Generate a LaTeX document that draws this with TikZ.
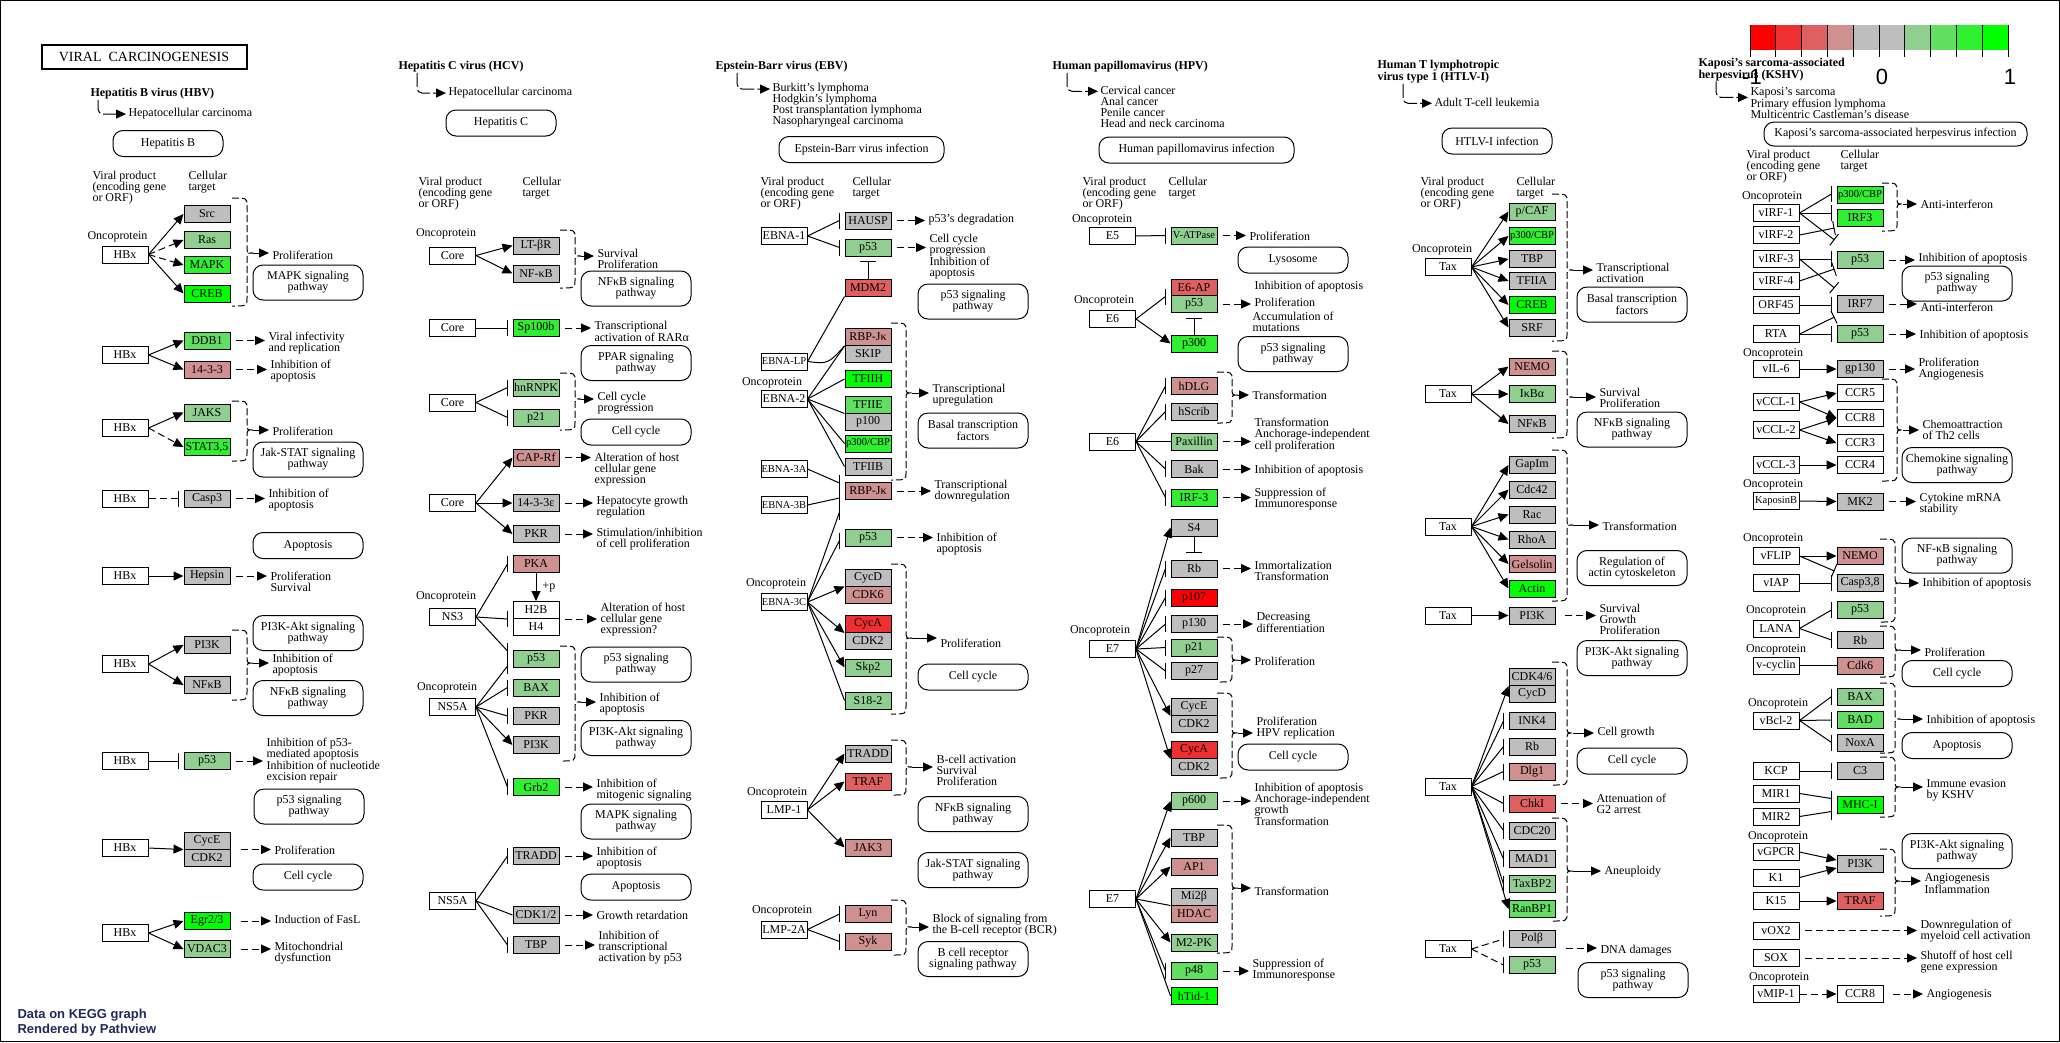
\documentclass[tikz,border=0pt]{standalone}
\usepackage{fontspec}
\setmainfont{Liberation Serif}
\setsansfont{Liberation Sans}
\usetikzlibrary{arrows.meta}

\definecolor{nodat}{HTML}{BEBEBE}
\definecolor{dn1}{HTML}{FF0000}
\definecolor{dn2}{HTML}{EF3030}
\definecolor{dn3}{HTML}{DF6060}
\definecolor{dn4}{HTML}{CF9090}
\definecolor{up4}{HTML}{90CF90}
\definecolor{up3}{HTML}{60DF60}
\definecolor{up2}{HTML}{30EF30}
\definecolor{up1}{HTML}{00FF00}
\definecolor{navy}{HTML}{1F2A5C}

\newcommand{\kegtxt}{\fontsize{12}{11}\selectfont}
% dashed bracket: name, x, top, bottom, tip
\newcommand{\kbrace}[5]{%
  \draw[brc] (#2,#3) .. controls (#2+15,#3) .. (#2+15,#3+8) -- (#2+15,#5-7)
    .. controls (#2+15,#5) .. (#2+21,#5) .. controls (#2+15,#5) .. (#2+15,#5+7)
    -- (#2+15,#4-8) .. controls (#2+15,#4) .. (#2,#4);
  \coordinate (#1) at (#2+21,#5);}
% inhibition: style, source, target anchor, bar offset
\newcommand{\inh}[4][]{%
  \draw[#1] (#2) -- ([shift={(-5,#4)}]#3);
  \draw ([shift={(-5,#4-8)}]#3) -- ++(0,16);}

\begin{document}
\begin{tikzpicture}[x=1pt, y=-1pt, line width=1pt, font=\kegtxt,
  gene/.style={draw, fill=nodat, minimum width=46pt, minimum height=17pt, inner sep=0pt},
  vp/.style={gene, fill=white},
  nar/.style={font=\fontsize{10.5}{11}\selectfont},
  pw/.style={draw, rounded corners=10pt, minimum width=110pt, minimum height=26pt, align=center, inner sep=1pt},
  pw2/.style={pw, minimum height=35pt},
  lbl/.style={anchor=west, align=left, inner sep=0pt},
  onc/.style={inner sep=0pt},
  ttl/.style={anchor=west, align=left, inner sep=0pt, font=\bfseries\fontsize{12}{10.5}\selectfont},
  act/.style={-{Triangle[length=10pt,width=9pt]}},
  blk/.style={-{Bar[width=14pt]}},
  ind/.style={act, dash pattern=on 7pt off 4pt},
  nd/.style={dash pattern=on 7pt off 4pt},
  go/.style={ind, shorten <=5pt, shorten >=3pt},
  bto/.style={act, shorten >=3pt},
  brc/.style={dash pattern=on 7pt off 3pt},
  dis/.style={act, rounded corners=5pt, shorten >=2pt, dash pattern=on 14pt off 3pt}]

\useasboundingbox (0,0) rectangle (2060,1042);
\draw (0.5,0.5) rectangle (2059.5,1041.5);

% Title and legend
\node[draw, line width=2pt, minimum width=205pt, minimum height=24pt, inner sep=0pt,
  font=\fontsize{14}{14}\selectfont] (title) at (144,56.5) {VIRAL\ \ CARCINOGENESIS};
\foreach \cl [count=\i from 0] in {dn1,dn2,dn3,dn4,nodat,nodat,up4,up3,up2,up1}
  \fill[\cl] (1750+25.8*\i,25) rectangle ++(25.8,25);
\foreach \i in {0,...,10}
  \draw (1750+25.8*\i,25) -- ++(0,32);
\node[font=\sffamily\fontsize{22}{22}\selectfont] (lgLo) at (1752,77) {-1};
\node[font=\sffamily\fontsize{22}{22}\selectfont] (lgMid) at (1882,77) {0};
\node[font=\sffamily\fontsize{22}{22}\selectfont] (lgHi) at (2010,77) {1};
\node[anchor=west, align=left, inner sep=0pt, text=navy,
  font=\sffamily\bfseries\fontsize{13}{15}\selectfont] (pvData) at (17,1022.5) {Data on KEGG graph\\Rendered by Pathview};

% ---------------- HBV ----------------
\node[ttl] (hbvT) at (90,94) {Hepatitis B virus (HBV)};
\node[lbl] (hbvD) at (128,114) {Hepatocellular carcinoma};
\draw[dis] ([xshift=8pt]hbvT.south west) |- ([yshift=-6pt]hbvD.north west);
\node[pw] (hbvP) at (168,143.5) {Hepatitis B};
\node[lbl] (hbvV) at (92,188) {Viral product\\(encoding gene\\or ORF)};
\node[lbl] (hbvC) at (188,182.5) {Cellular\\target};

\node[onc] (bOnc) at (117.5,237) {Oncoprotein};
\node[vp] (bHBx1) at (125,254.5) {HBx};
\node[gene] (bSrc) at (207,214) {Src};
\node[gene, fill=up4] (bRas) at (207,240) {Ras};
\node[gene, fill=up2] (bMAPK) at (207,265) {MAPK};
\node[gene, fill=up1] (bCREB) at (207,293.5) {CREB};
\draw[act] (bHBx1.east) -- (bSrc.west);
\draw[ind] (bHBx1.east) -- (bRas.west);
\draw[ind] (bHBx1.east) -- (bMAPK.west);
\draw[act] (bHBx1.east) -- (bCREB.west);
\kbrace{bB1}{232}{198}{306}{253}
\node[lbl] (bL1) at (272,255) {Proliferation};
\draw[bto] (bB1) -- (bB1 -| bL1.west);
\node[pw2] (bP1) at (308,282.5) {MAPK signaling\\pathway};

\node[vp] (bHBx2) at (125,355) {HBx};
\node[gene, fill=up3] (bDDB1) at (207,340.5) {DDB1};
\node[gene, fill=dn4] (b1433) at (207,369.5) {14-3-3};
\draw[act] (bHBx2.east) -- (bDDB1.west);
\draw[act] (bHBx2.east) -- (b1433.west);
\node[lbl] (bL2) at (268,343) {Viral infectivity\\and replication};
\node[lbl] (bL3) at (270,371) {Inhibition of\\apoptosis};
\draw[go] (bDDB1.east) -- (bDDB1.east -| bL2.west);
\draw[go] (b1433.east) -- (b1433.east -| bL3.west);

\node[vp] (bHBx3) at (125,428) {HBx};
\node[gene, fill=up4] (bJAKS) at (207,412.5) {JAKS};
\node[gene, fill=up2] (bSTAT) at (207,447) {STAT3,5};
\draw[act] (bHBx3.east) -- (bJAKS.west);
\draw[ind] (bHBx3.east) -- (bSTAT.west);
\kbrace{bB3}{232}{401}{461}{430}
\node[lbl] (bL4) at (272,431) {Proliferation};
\draw[bto] (bB3) -- (bB3 -| bL4.west);
\node[pw2] (bP3) at (308,459.5) {Jak-STAT signaling\\pathway};

\node[vp] (bHBx4) at (125,498.5) {HBx};
\node[gene] (bCasp3) at (207,498.5) {Casp3};
\inh[nd]{bHBx4.east}{bCasp3.west}{0}
\node[lbl] (bL5) at (268,500.5) {Inhibition of\\apoptosis};
\draw[go] (bCasp3.east) -- (bCasp3.east -| bL5.west);
\node[pw] (bP4) at (308,545.5) {Apoptosis};

\node[vp] (bHBx5) at (125,576) {HBx};
\node[gene] (bHepsin) at (207,576) {Hepsin};
\draw[act] (bHBx5.east) -- (bHepsin.west);
\node[lbl] (bL6) at (270,581.5) {Proliferation\\Survival};
\draw[go] (bHepsin.east) -- (bHepsin.east -| bL6.west);

\node[vp] (bHBx6) at (125,664) {HBx};
\node[gene] (bPI3K) at (207,645) {PI3K};
\node[gene] (bNFkB) at (207,685) {NFκB};
\draw[act] (bHBx6.east) -- (bPI3K.west);
\draw[act] (bHBx6.east) -- (bNFkB.west);
\kbrace{bB6}{232}{630}{700}{663}
\node[lbl] (bL7) at (272,665.5) {Inhibition of\\apoptosis};
\draw[bto] (bB6) -- (bB6 -| bL7.west);
\node[pw2] (bP6a) at (308,633) {PI3K-Akt signaling\\pathway};
\node[pw2] (bP6b) at (308,698) {NFκB signaling\\pathway};

\node[vp] (bHBx7) at (125,761) {HBx};
\node[gene, fill=up4] (bp53) at (207,761) {p53};
\inh{bHBx7.east}{bp53.west}{0}
\node[lbl] (bL8) at (266,760.5) {Inhibition of p53-\\mediated apoptosis\\Inhibition of nucleotide\\excision repair};
\draw[go] (bp53.east) -- (bp53.east -| bL8.west);
\node[pw2] (bP7) at (309,806.5) {p53 signaling\\pathway};

\node[vp] (bHBx8) at (125,848) {HBx};
\node[gene] (bCycE) at (207,840.5) {CycE};
\node[gene] (bCDK2) at (207,857.5) {CDK2};
\draw[act] (bHBx8.east) -- (bCycE.south west);
\node[lbl] (bL9) at (274,850) {Proliferation};
\draw[go, shorten <=10pt] (bCycE.south east) -- (bCycE.south east -| bL9.west);
\node[pw] (bP8) at (308,877) {Cell cycle};

\node[vp] (bHBx9) at (125,933) {HBx};
\node[gene, fill=up1] (bEgr) at (207,921) {Egr2/3};
\node[gene, fill=up4] (bVDAC) at (207,949) {VDAC3};
\draw[act] (bHBx9.east) -- (bEgr.west);
\draw[act] (bHBx9.east) -- (bVDAC.west);
\node[lbl] (bL10) at (274,919) {Induction of FasL};
\node[lbl] (bL11) at (274,953.5) {Mitochondrial\\dysfunction};
\draw[go, shorten <=10pt] (bEgr.east) -- (bEgr.east -| bL10.west);
\draw[go, shorten <=10pt] (bVDAC.east) -- (bVDAC.east -| bL11.west);

% ---------------- HCV ----------------
\node[ttl] (hcvT) at (398,67) {Hepatitis C virus (HCV)};
\node[lbl] (hcvD) at (448,93) {Hepatocellular carcinoma};
\draw[dis] ([xshift=19pt]hcvT.south west) |- ([yshift=-6pt]hcvD.north west);
\node[pw] (hcvP) at (501,123) {Hepatitis C};
\node[lbl] (hcvV) at (418,194) {Viral product\\(encoding gene\\or ORF)};
\node[lbl] (hcvC) at (522,188.5) {Cellular\\target};

\node[onc] (cOnc1) at (446,234) {Oncoprotein};
\node[vp] (cCore1) at (452.5,255.5) {Core};
\node[gene] (cLTbR) at (536,245.5) {LT-βR};
\node[gene] (cNFkB) at (536,273.5) {NF-κB};
\draw[act] (cCore1.east) -- (cLTbR.west);
\draw[act] (cCore1.east) -- (cNFkB.west);
\kbrace{cB1}{560}{230}{288}{256}
\node[lbl] (cL1) at (597,258.5) {Survival\\Proliferation};
\draw[bto] (cB1) -- (cB1 -| cL1.west);
\node[pw2] (cP1) at (636,288.5) {NFκB signaling\\pathway};

\node[vp] (cCore2) at (452.5,328) {Core};
\node[gene, fill=up2] (cSp100) at (536,328) {Sp100b};
\inh{cCore2.east}{cSp100.west}{0}
\node[lbl] (cL2) at (594,331.5) {Transcriptional\\activation of RARα};
\draw[go] (cSp100.east) -- (cSp100.east -| cL2.west);
\node[pw2] (cP2) at (636,363) {PPAR signaling\\pathway};

\node[vp] (cCore3) at (452.5,402.5) {Core};
\node[gene, fill=up4] (chnRNPK) at (536,387.5) {hnRNPK};
\node[gene, fill=up4] (cp21) at (536,417.5) {p21};
\inh{cCore3.east}{chnRNPK.west}{0}
\inh{cCore3.east}{cp21.west}{0}
\kbrace{cB3}{560}{373}{430}{399}
\node[lbl] (cL3) at (597,403.5) {Cell cycle\\progression};
\draw[bto] (cB3) -- (cB3 -| cL3.west);
\node[pw] (cP3) at (636,432) {Cell cycle};

\node[vp] (cCore4) at (452.5,503) {Core};
\node[gene, fill=dn4] (cCAP) at (536,457.5) {CAP-Rf};
\node[gene] (c1433) at (536,503) {14-3-3ε};
\node[gene] (cPKR1) at (536,534) {PKR};
\draw[act] (cCore4.east) -- (cCAP.west);
\draw[act] (cCore4.east) -- (c1433.west);
\draw[act] (cCore4.east) -- (cPKR1.west);
\node[lbl] (cL4) at (594,470) {Alteration of host\\cellular gene\\expression};
\node[lbl] (cL5) at (596,507.5) {Hepatocyte growth\\regulation};
\node[lbl] (cL6) at (596,539.5) {Stimulation/inhibition\\of cell proliferation};
\draw[go] (cCAP.east) -- (cCAP.east -| cL4.west);
\draw[go] (c1433.east) -- (c1433.east -| cL5.west);
\draw[go] (cPKR1.east) -- (cPKR1.east -| cL6.west);

\node[gene, fill=dn4] (cPKA) at (536,564) {PKA};
\node[gene, fill=white] (cH2B) at (536,610) {H2B};
\node[gene, fill=white] (cH4) at (536,626.5) {H4};
\draw[act] (cPKA.south) -- (cH2B.north) node[midway, anchor=west, inner sep=0pt, xshift=6pt] (cPlusP) {+p};
\node[onc] (cOnc2) at (446,597) {Oncoprotein};
\node[vp] (cNS3) at (452.5,617) {NS3};
\inh{cNS3.east}{cPKA.west}{0}
\inh{cNS3.east}{cH2B.south west}{0}
\node[lbl] (cL7) at (600,620) {Alteration of host\\cellular gene\\expression?};
\draw[go] (cH2B.south east) -- (cH2B.south east -| cL7.west);

\node[onc] (cOnc3) at (447,688) {Oncoprotein};
\node[vp] (cNS5A1) at (452.5,707) {NS5A};
\node[gene, fill=up4] (cp53) at (536,659) {p53};
\node[gene, fill=up4] (cBAX) at (536,687.5) {BAX};
\node[gene] (cPKR2) at (536,716) {PKR};
\node[gene] (cPI3K) at (536,745) {PI3K};
\node[gene, fill=up2] (cGrb2) at (536,787) {Grb2};
\inh{cNS3.east}{cp53.west}{-8}
\inh{cNS5A1.east}{cp53.west}{7}
\inh{cNS5A1.east}{cBAX.west}{0}
\inh{cNS5A1.east}{cPKR2.west}{0}
\draw[act] (cNS5A1.east) -- (cPI3K.west);
\inh{cNS5A1.east}{cGrb2.west}{0}
\kbrace{cB5}{560}{646}{761}{702}
\node[lbl] (cL8) at (599,704.5) {Inhibition of\\apoptosis};
\draw[bto] (cB5) -- (cB5 -| cL8.west);
\node[pw2] (cP5a) at (636,664.5) {p53 signaling\\pathway};
\node[pw2] (cP5b) at (636,738) {PI3K-Akt signaling\\pathway};
\node[lbl] (cL9) at (596,790.5) {Inhibition of\\mitogenic signaling};
\draw[go] (cGrb2.east) -- (cGrb2.east -| cL9.west);
\node[pw2] (cP6) at (636,821.5) {MAPK signaling\\pathway};

\node[vp] (cNS5A2) at (452.5,901) {NS5A};
\node[gene] (cTRADD) at (536,856) {TRADD};
\node[gene] (cCDK) at (536,915) {CDK1/2};
\node[gene] (cTBP) at (536,945) {TBP};
\inh{cNS5A2.east}{cTRADD.west}{0}
\draw (cNS5A2.east) -- (cCDK.west);
\inh{cNS5A2.east}{cTBP.west}{0}
\node[lbl] (cL10) at (596,858.5) {Inhibition of\\apoptosis};
\node[pw] (cP7) at (636,887) {Apoptosis};
\node[lbl] (cL11) at (596,915) {Growth retardation};
\node[lbl] (cL12) at (598,948) {Inhibition of\\transcriptional\\activation by p53};
\draw[go] (cTRADD.east) -- (cTRADD.east -| cL10.west);
\draw[go] (cCDK.east) -- (cCDK.east -| cL11.west);
\draw[go] (cTBP.east) -- (cTBP.east -| cL12.west);

% ---------------- EBV ----------------
\node[ttl] (ebvT) at (715,67) {Epstein-Barr virus (EBV)};
\node[lbl] (ebvD) at (772,105.5) {Burkitt's lymphoma\\Hodgkin's lymphoma\\Post transplantation lymphoma\\Nasopharyngeal carcinoma};
\draw[dis] ([xshift=22pt]ebvT.south west) |- ([yshift=-6pt]ebvD.north west);
\node[pw, minimum width=165pt] (ebvP) at (861.5,149.5) {Epstein-Barr virus infection};
\node[lbl] (ebvV) at (760,194) {Viral product\\(encoding gene\\or ORF)};
\node[lbl] (ebvC) at (852,188.5) {Cellular\\target};

\node[vp] (eEBNA1) at (784,236) {EBNA-1};
\node[gene] (eHAUSP) at (868,220.5) {HAUSP};
\node[gene, fill=up4] (ep53a) at (868,247.5) {p53};
\node[gene, fill=dn3] (eMDM2) at (868,287.5) {MDM2};
\inh{eEBNA1.east}{eHAUSP.west}{0}
\inh{eEBNA1.east}{ep53a.west}{0}
\draw (eMDM2.north) -- ([yshift=-5pt]ep53a.south) ++(-8,0) -- ++(16,0);
\node[lbl] (eL1) at (928,220) {p53's degradation};
\node[lbl] (eL2) at (929,256.5) {Cell cycle\\progression\\Inhibition of\\apoptosis};
\draw[go] (eHAUSP.east) -- (eHAUSP.east -| eL1.west);
\draw[go] (ep53a.east) -- (ep53a.east -| eL2.west);
\node[pw2] (eP1) at (973,301.5) {p53 signaling\\pathway};

\node[vp, nar] (eEBNALP) at (784,361.5) {EBNA-LP};
\node[onc] (eOnc1) at (772,383) {Oncoprotein};
\node[vp] (eEBNA2) at (784,399) {EBNA-2};
\node[gene, fill=dn4] (eRBP1) at (868,337) {RBP-Jκ};
\node[gene] (eSKIP) at (868,353.5) {SKIP};
\node[gene, fill=up1] (eTFIIH) at (868,379) {TFIIH};
\node[gene, fill=up3] (eTFIIE) at (868,404.5) {TFIIE};
\node[gene] (ep100) at (868,421.5) {p100};
\node[gene, fill=up2, nar] (ep300) at (868,443.5) {p300/CBP};
\node[gene] (eTFIIB) at (868,466.5) {TFIIB};
\draw (eEBNALP.east) -- (eMDM2.south west);
\draw (eEBNALP.east) .. controls (828,364) .. (eRBP1.south west);
\draw (eEBNA2.east) -- (eRBP1.south west);
\draw (eEBNA2.east) -- (eTFIIH.west);
\draw (eEBNA2.east) -- (eTFIIE.south west);
\draw (eEBNA2.east) -- (ep300.west);
\draw (eEBNA2.east) -- (eTFIIB.west);
\kbrace{eB2}{891}{323}{480}{393}
\node[lbl] (eL3) at (932,395.5) {Transcriptional\\upregulation};
\draw[bto] (eB2) -- (eB2 -| eL3.west);
\node[pw2] (eP2) at (973,430.5) {Basal transcription\\factors};

\node[vp, nar] (eEBNA3A) at (784,469) {EBNA-3A};
\node[vp, nar] (eEBNA3B) at (784,505) {EBNA-3B};
\node[gene, fill=dn4] (eRBP2) at (868,491) {RBP-Jκ};
\inh{eEBNA3A.east}{eRBP2.west}{-8}
\inh{eEBNA3B.east}{eRBP2.west}{7}
\node[lbl] (eL4) at (934,491.5) {Transcriptional\\downregulation};
\draw[go] (eRBP2.east) -- (eRBP2.east -| eL4.west);
\node[gene, fill=up4] (ep53b) at (868,537.5) {p53};
\node[lbl] (eL5) at (936,544.5) {Inhibition of\\apoptosis};
\draw[go] (ep53b.east) -- (ep53b.east -| eL5.west);

\node[onc] (eOnc3) at (776,584) {Oncoprotein};
\node[vp, nar] (eEBNA3C) at (784,602) {EBNA-3C};
\inh{eEBNA3C.east}{eRBP2.south west}{12}
\inh{eEBNA3C.east}{ep53b.west}{3}
\node[gene] (eCycD) at (868,577.5) {CycD};
\node[gene, fill=dn4] (eCDK6) at (868,594.5) {CDK6};
\node[gene, fill=dn2] (eCycA) at (868,624) {CycA};
\node[gene] (eCDK2) at (868,640.5) {CDK2};
\node[gene, fill=up4] (eSkp2) at (868,667.5) {Skp2};
\node[gene, fill=up4] (eS182) at (868,700.5) {S18-2};
\draw[act] (eEBNA3C.east) -- (eCycD.south west);
\draw[act] (eEBNA3C.east) -- (eCycA.south west);
\draw[act] (eEBNA3C.east) -- (eSkp2.west);
\draw (eEBNA3C.east) -- (eS182.west);
\kbrace{eB3}{891}{564}{714}{638}
\node[lbl] (eL6) at (940,643) {Proliferation};
\draw[bto] (eB3) -- (eB3 -| eL6.west);
\node[pw] (eP3) at (973,677) {Cell cycle};

\node[onc] (eOnc4) at (777,793) {Oncoprotein};
\node[vp] (eLMP1) at (784,810) {LMP-1};
\node[gene] (eTRADD) at (868,753.5) {TRADD};
\node[gene, fill=dn3] (eTRAF) at (868,781.5) {TRAF};
\node[gene, fill=dn4] (eJAK3) at (868,847.5) {JAK3};
\draw[act] (eLMP1.east) -- (eTRADD.west);
\draw[act] (eLMP1.east) -- (eTRAF.west);
\draw[act] (eLMP1.east) -- (eJAK3.west);
\kbrace{eB4}{891}{740}{795}{767}
\node[lbl] (eL7) at (936,770.5) {B-cell activation\\Survival\\Proliferation};
\draw[bto] (eB4) -- (eB4 -| eL7.west);
\node[pw2] (eP4) at (973,814) {NFκB signaling\\pathway};
\node[pw2] (eP5) at (973,870) {Jak-STAT signaling\\pathway};

\node[onc] (eOnc5) at (782,911) {Oncoprotein};
\node[vp] (eLMP2A) at (784,929.5) {LMP-2A};
\node[gene, fill=dn4] (eLyn) at (868,914) {Lyn};
\node[gene, fill=dn4] (eSyk) at (868,941.5) {Syk};
\inh{eLMP2A.east}{eLyn.west}{0}
\inh{eLMP2A.east}{eSyk.west}{0}
\kbrace{eB5}{891}{900}{955}{927}
\node[lbl] (eL8) at (932,925.5) {Block of signaling from\\the B-cell receptor (BCR)};
\draw[bto] (eB5) -- (eB5 -| eL8.west);
\node[pw2] (eP6) at (973,959) {B cell receptor\\signaling pathway};

% ---------------- HPV ----------------
\node[ttl] (hpvT) at (1052,67) {Human papillomavirus (HPV)};
\node[lbl] (hpvD) at (1100,106.5) {Cervical cancer\\Anal cancer\\Penile cancer\\Head and neck carcinoma};
\draw[dis] ([xshift=15pt]hpvT.south west) |- ([yshift=-6pt]hpvD.north west);
\node[pw, minimum width=195pt] (hpvP) at (1196.5,150) {Human papillomavirus infection};
\node[lbl] (hpvV) at (1082,194) {Viral product\\(encoding gene\\or ORF)};
\node[lbl] (hpvC) at (1168,188.5) {Cellular\\target};

\node[onc] (pOnc1) at (1102,220) {Oncoprotein};
\node[vp] (pE5) at (1112.5,236) {E5};
\node[gene, fill=up4, nar] (pVATP) at (1194,235.5) {V-ATPase};
\inh{pE5.east}{pVATP.west}{0}
\node[lbl] (pL1) at (1249,236) {Proliferation};
\draw[go] (pVATP.east) -- (pVATP.east -| pL1.west);
\node[pw] (pP1) at (1293,260) {Lysosome};

\node[onc] (pOnc2) at (1104,301) {Oncoprotein};
\node[vp] (pE6a) at (1112.5,319) {E6};
\node[gene, fill=dn3] (pE6AP) at (1194,287.5) {E6-AP};
\node[gene, fill=up4] (pp53) at (1194,304) {p53};
\node[gene, fill=up2] (pp300) at (1194,343.5) {p300};
\inh{pE6a.east}{pE6AP.south west}{0}
\draw[act] (pE6a.east) -- (pp300.west);
\draw (pp300.north) -- ([yshift=-5pt]pp53.south) ++(-8,0) -- ++(16,0);
\node[lbl] (pL2a) at (1254,287) {Inhibition of apoptosis};
\node[lbl] (pL2b) at (1254,302) {Proliferation};
\node[lbl] (pL2c) at (1252,321.5) {Accumulation of\\mutations};
\draw[go] (pp53.east) -- (pp53.east -| pL2b.west);
\node[pw2] (pP2) at (1293,354) {p53 signaling\\pathway};

\node[vp] (pE6b) at (1112.5,441.5) {E6};
\node[gene, fill=dn4] (phDLG) at (1194,386) {hDLG};
\node[gene] (phScrib) at (1194,411.5) {hScrib};
\node[gene, fill=up4] (pPax) at (1194,441.5) {Paxillin};
\node[gene] (pBak) at (1194,469) {Bak};
\node[gene, fill=up2] (pIRF3) at (1194,497.5) {IRF-3};
\inh{pE6b.east}{phDLG.west}{0}
\inh{pE6b.east}{phScrib.west}{0}
\draw (pE6b.east) -- (pPax.west);
\inh{pE6b.east}{pBak.west}{0}
\inh{pE6b.east}{pIRF3.west}{0}
\kbrace{pB3}{1217}{372}{423}{395}
\node[lbl] (pL3) at (1252,395) {Transformation};
\draw[bto] (pB3) -- (pB3 -| pL3.west);
\node[lbl] (pL4) at (1254,435) {Transformation\\Anchorage-independent\\cell proliferation};
\node[lbl] (pL5) at (1254,471) {Inhibition of apoptosis};
\node[lbl] (pL6) at (1254,499.5) {Suppression of\\Immunoresponse};
\draw[go] (pPax.east) -- (pPax.east -| pL4.west);
\draw[go] (pBak.east) -- (pBak.east -| pL5.west);
\draw[go] (pIRF3.east) -- (pIRF3.east -| pL6.west);

\node[gene] (pS4) at (1194,527.5) {S4};
\node[gene] (pRb) at (1194,568.5) {Rb};
\node[gene, fill=dn1] (pp107) at (1194,597.5) {p107};
\node[gene] (pp130) at (1194,624) {p130};
\node[gene, fill=up4] (pp21) at (1194,647.5) {p21};
\node[gene] (pp27) at (1194,671) {p27};
\node[gene] (pCycE) at (1194,707) {CycE};
\node[gene] (pCDK2a) at (1194,723.5) {CDK2};
\node[gene, fill=dn2] (pCycA) at (1194,750) {CycA};
\node[gene] (pCDK2b) at (1194,766.5) {CDK2};
\draw (pS4.south) -- ([yshift=7pt]pRb.north) ++(-8,0) -- ++(16,0);
\node[onc] (pOnc3) at (1100,631) {Oncoprotein};
\node[vp] (pE7a) at (1112.5,649) {E7};
\draw[act] (pE7a.east) -- (pS4.west);
\inh{pE7a.east}{pRb.west}{0}
\inh{pE7a.east}{pp107.west}{0}
\inh{pE7a.east}{pp130.west}{0}
\inh{pE7a.east}{pp21.west}{0}
\inh{pE7a.east}{pp27.west}{0}
\draw[act] (pE7a.east) -- (pCycE.south west);
\draw[act] (pE7a.east) -- (pCycA.south west);
\node[lbl] (pL7) at (1254,571) {Immortalization\\Transformation};
\draw[go] (pRb.east) -- (pRb.east -| pL7.west);
\node[lbl] (pL8) at (1256,622.5) {Decreasing\\differentiation};
\draw[go] (pp130.east) -- (pp130.east -| pL8.west);
\kbrace{pB4}{1217}{637}{682}{660}
\node[lbl] (pL9) at (1254,661) {Proliferation};
\draw[bto] (pB4) -- (pB4 -| pL9.west);
\kbrace{pB5}{1217}{693}{778}{733}
\node[lbl] (pL10) at (1256,728.5) {Proliferation\\HPV replication};
\draw[bto] (pB5) -- (pB5 -| pL10.west);
\node[pw] (pP3) at (1293,757) {Cell cycle};

\node[vp] (pE7b) at (1112.5,899) {E7};
\node[gene, fill=up4] (pp600) at (1194,801) {p600};
\node[gene] (pTBP) at (1194,837.5) {TBP};
\node[gene, fill=dn4] (pAP1) at (1194,866.5) {AP1};
\node[gene] (pMi2) at (1194,896.5) {Mi2β};
\node[gene, fill=dn4] (pHDAC) at (1194,913.5) {HDAC};
\node[gene, fill=up4] (pM2PK) at (1194,942.5) {M2-PK};
\node[gene, fill=up3] (pp48) at (1194,971) {p48};
\node[gene, fill=up1] (phTid) at (1194,996) {hTid-1};
\draw[act] (pE7b.east) -- (pp600.west);
\draw[act] (pE7b.east) -- (pTBP.west);
\draw[act] (pE7b.east) -- (pAP1.west);
\draw (pE7b.east) -- (pMi2.south west);
\draw[act] (pE7b.east) -- (pM2PK.west);
\inh{pE7b.east}{pp48.west}{0}
\draw (pE7b.east) -- (phTid.west);
\node[lbl] (pL11) at (1254,804.5) {Inhibition of apoptosis\\Anchorage-independent\\growth\\Transformation};
\draw[go] (pp600.east) -- (pp600.east -| pL11.west);
\kbrace{pB6}{1217}{825}{953}{888}
\node[lbl] (pL12) at (1254,891) {Transformation};
\draw[bto] (pB6) -- (pB6 -| pL12.west);
\node[lbl] (pL13) at (1252,970.5) {Suppression of\\Immunoresponse};
\draw[go] (pp48.east) -- (pp48.east -| pL13.west);

% ---------------- HTLV-I ----------------
\node[ttl] (htlvT) at (1377,72) {Human T lymphotropic\\virus type 1 (HTLV-I)};
\node[lbl] (htlvD) at (1434,102) {Adult T-cell leukemia};
\draw[dis] ([xshift=26pt]htlvT.south west) |- ([yshift=-6pt]htlvD.north west);
\node[pw] (htlvP) at (1497,141) {HTLV-I infection};
\node[lbl] (htlvV) at (1420,194) {Viral product\\(encoding gene\\or ORF)};
\node[lbl] (htlvC) at (1516,188.5) {Cellular\\target};

\node[onc] (tOnc1) at (1442,250) {Oncoprotein};
\node[vp] (tTax1) at (1448,267) {Tax};
\node[gene, fill=up4] (tpCAF) at (1532,211.5) {p/CAF};
\node[gene, fill=up2, nar] (tp300) at (1532,236) {p300/CBP};
\node[gene] (tTBP) at (1532,259) {TBP};
\node[gene] (tTFIIA) at (1532,281) {TFIIA};
\node[gene, fill=up1] (tCREB) at (1532,305) {CREB};
\node[gene] (tSRF) at (1532,327.5) {SRF};
\draw[act] (tTax1.east) -- (tpCAF.west);
\draw[act] (tTax1.east) -- (tp300.west);
\draw[act] (tTax1.east) -- (tTBP.west);
\draw[act] (tTax1.east) -- (tTFIIA.west);
\draw[act] (tTax1.east) -- (tCREB.west);
\draw[act] (tTax1.east) -- (tSRF.west);
\kbrace{tB1}{1552}{194}{341}{270}
\node[lbl] (tL1) at (1596,272.5) {Transcriptional\\activation};
\draw[bto] (tB1) -- (tB1 -| tL1.west);
\node[pw2] (tP1) at (1632,304.5) {Basal transcription\\factors};

\node[vp] (tTax2) at (1448,394) {Tax};
\node[gene, fill=dn4] (tNEMO) at (1532,366.5) {NEMO};
\node[gene, fill=up4] (tIkBa) at (1532,394) {IκBα};
\node[gene] (tNFkB) at (1532,424) {NFκB};
\draw[act] (tTax2.east) -- (tNEMO.west);
\draw[act] (tTax2.east) -- (tIkBa.west);
\draw[act] (tTax2.east) -- (tNFkB.west);
\kbrace{tB2}{1552}{351}{438}{397}
\node[lbl] (tL2) at (1599,397.5) {Survival\\Proliferation};
\draw[bto] (tB2) -- (tB2 -| tL2.west);
\node[pw2] (tP2) at (1632,429.5) {NFκB signaling\\pathway};

\node[vp] (tTax3) at (1448,526.5) {Tax};
\node[gene] (tGapIm) at (1532,465) {GapIm};
\node[gene] (tCdc42) at (1532,489.5) {Cdc42};
\node[gene] (tRac) at (1532,514.5) {Rac};
\node[gene] (tRhoA) at (1532,539.5) {RhoA};
\node[gene, fill=dn4] (tGels) at (1532,564) {Gelsolin};
\node[gene, fill=up1] (tActin) at (1532,588.5) {Actin};
\draw[act] (tTax3.east) -- (tGapIm.west);
\draw[act] (tTax3.east) -- (tCdc42.west);
\draw[act] (tTax3.east) -- (tRac.west);
\draw[act] (tTax3.east) -- (tRhoA.west);
\draw[act] (tTax3.east) -- (tGels.west);
\draw[act] (tTax3.east) -- (tActin.west);
\kbrace{tB3}{1552}{450}{601}{525}
\node[lbl] (tL3) at (1602,526) {Transformation};
\draw[bto] (tB3) -- (tB3 -| tL3.west);
\node[pw2] (tP3) at (1632,568) {Regulation of\\actin cytoskeleton};

\node[vp] (tTax4) at (1448,615.5) {Tax};
\node[gene] (tPI3K) at (1532,615.5) {PI3K};
\draw[act] (tTax4.east) -- (tPI3K.west);
\node[lbl] (tL4) at (1599,619) {Survival\\Growth\\Proliferation};
\draw[go, shorten <=9pt] (tPI3K.east) -- (tPI3K.east -| tL4.west);
\node[pw2] (tP4) at (1632,658) {PI3K-Akt signaling\\pathway};

\node[vp] (tTax5) at (1448,786.5) {Tax};
\node[gene] (tCDK46) at (1532,677) {CDK4/6};
\node[gene] (tCycD) at (1532,693.5) {CycD};
\node[gene] (tINK4) at (1532,721) {INK4};
\node[gene] (tRb) at (1532,746.5) {Rb};
\node[gene, fill=dn4] (tDlg1) at (1532,771.5) {Dlg1};
\node[gene, fill=dn3] (tChkI) at (1532,803.5) {ChkI};
\node[gene] (tCDC20) at (1532,830.5) {CDC20};
\node[gene] (tMAD1) at (1532,859) {MAD1};
\node[gene, fill=up4] (tTaxBP2) at (1532,884) {TaxBP2};
\node[gene, fill=up3] (tRanBP1) at (1532,909) {RanBP1};
\draw[act] (tTax5.east) -- (tCDK46.south west);
\inh{tTax5.east}{tINK4.west}{0}
\inh{tTax5.east}{tRb.west}{0}
\inh{tTax5.east}{tDlg1.west}{0}
\inh{tTax5.east}{tChkI.west}{0}
\inh{tTax5.east}{tCDC20.west}{0}
\inh{tTax5.east}{tMAD1.west}{0}
\inh{tTax5.east}{tTaxBP2.west}{0}
\draw[act] (tTax5.east) -- (tRanBP1.west);
\kbrace{tB4}{1552}{662}{785}{733}
\node[lbl] (tL5) at (1597,733) {Cell growth};
\draw[bto] (tB4) -- (tB4 -| tL5.west);
\node[pw] (tP5) at (1632,761) {Cell cycle};
\node[lbl] (tL6) at (1596,803.5) {Attenuation of\\G2 arrest};
\draw[go] (tChkI.east) -- (tChkI.east -| tL6.west);
\kbrace{tB5}{1552}{818}{921}{871}
\node[lbl] (tL7) at (1604,872) {Aneuploidy};
\draw[bto] (tB5) -- (tB5 -| tL7.west);

\node[vp] (tTax6) at (1448,949) {Tax};
\node[gene] (tPolb) at (1532,939) {Polβ};
\node[gene, fill=up4] (tp53) at (1532,965) {p53};
\inh[nd]{tTax6.east}{tPolb.west}{0}
\inh[nd]{tTax6.east}{tp53.west}{0}
\node[lbl] (tL8) at (1600,951) {DNA damages};
\draw[go, shorten <=10pt] (tPolb.south east) -- (tPolb.south east -| tL8.west);
\node[pw2] (tP6) at (1633,980) {p53 signaling\\pathway};

% ---------------- KSHV ----------------
\node[ttl] (kshvT) at (1698,69.5) {Kaposi's sarcoma-associated\\herpesvirus (KSHV)};
\node[lbl] (kshvD) at (1750,103.5) {Kaposi's sarcoma\\Primary effusion lymphoma\\Multicentric Castleman's disease};
\draw[dis] ([xshift=18pt]kshvT.south west) |- ([yshift=-10pt]kshvD.north west);
\node[pw, minimum width=263pt, minimum height=24pt] (kshvP) at (1895.5,134) {Kaposi's sarcoma-associated herpesvirus infection};
\node[lbl] (kshvV) at (1746,167) {Viral product\\(encoding gene\\or ORF)};
\node[lbl] (kshvC) at (1840,161.5) {Cellular\\target};

\node[onc] (kOnc1) at (1772,197) {Oncoprotein};
\node[vp] (kvIRF1) at (1776,213) {vIRF-1};
\node[vp] (kvIRF2) at (1776,235) {vIRF-2};
\node[vp] (kvIRF3) at (1776,259) {vIRF-3};
\node[vp] (kvIRF4) at (1776,281) {vIRF-4};
\node[vp] (kORF45) at (1776,305) {ORF45};
\node[vp] (kRTA) at (1776,334) {RTA};
\node[gene, fill=up2, nar] (kp300) at (1860,195) {p300/CBP};
\node[gene, fill=up2] (kIRF3) at (1860,218) {IRF3};
\node[gene, fill=up4] (kp53a) at (1860,260) {p53};
\node[gene] (kIRF7) at (1860,304) {IRF7};
\node[gene, fill=up4] (kp53b) at (1860,334) {p53};
\inh{kvIRF1.east}{kp300.west}{-1}
\inh{kvIRF1.east}{kIRF3.west}{-5}
\draw[blk] (kvIRF1.east) -- ([shift={(-2,-20)}]kp53a.west);
\draw[blk] (kvIRF2.east) -- ([shift={(-2,10)}]kIRF3.west);
\inh{kvIRF3.east}{kp53a.west}{-1}
\draw[blk] (kvIRF3.east) -- ([shift={(-2,-16)}]kIRF7.west);
\draw[blk] (kvIRF4.east) -- ([shift={(-2,9)}]kp53a.west);
\inh{kORF45.east}{kIRF7.west}{1}
\draw[blk] (kRTA.east) -- ([shift={(-2,13)}]kIRF7.west);
\inh{kRTA.east}{kp53b.west}{0}
\kbrace{kB1}{1882}{183}{231}{204}
\node[lbl] (kL1) at (1920,204) {Anti-interferon};
\draw[bto] (kB1) -- (kB1 -| kL1.west);
\node[lbl] (kL2) at (1918,259) {Inhibition of apoptosis};
\draw[go] (kp53a.east) -- (kp53a.east -| kL2.west);
\node[pw2] (kP1) at (1957,283.5) {p53 signaling\\pathway};
\node[lbl] (kL3) at (1920,307) {Anti-interferon};
\draw[go] (kIRF7.east) -- (kIRF7.east -| kL3.west);
\node[lbl] (kL4) at (1919,336) {Inhibition of apoptosis};
\draw[go] (kp53b.east) -- (kp53b.east -| kL4.west);

\node[onc] (kOnc2) at (1773,354) {Oncoprotein};
\node[vp] (kvIL6) at (1776,369) {vIL-6};
\node[gene] (kgp130) at (1860,369) {gp130};
\draw[act] (kvIL6.east) -- (kgp130.west);
\node[lbl] (kL5) at (1918,369.5) {Proliferation\\Angiogenesis};
\draw[go] (kgp130.east) -- (kgp130.east -| kL5.west);

\node[vp] (kvCCL1) at (1776,402) {vCCL-1};
\node[vp] (kvCCL2) at (1776,430) {vCCL-2};
\node[vp] (kvCCL3) at (1776,465) {vCCL-3};
\node[vp] (kCCR5) at (1860,393) {CCR5};
\node[vp] (kCCR8a) at (1860,418) {CCR8};
\node[vp] (kCCR3) at (1860,443) {CCR3};
\node[vp] (kCCR4) at (1860,465) {CCR4};
\draw[act] (kvCCL1.east) -- (kCCR5.west);
\draw[act] (kvCCL1.east) -- (kCCR8a.west);
\draw[act] (kvCCL2.east) -- (kCCR8a.west);
\draw[act] (kvCCL2.east) -- (kCCR3.west);
\draw[act] (kvCCL3.east) -- (kCCR4.west);
\kbrace{kB2}{1882}{379}{481}{430}
\node[lbl] (kL6) at (1922,430) {Chemoattraction\\of Th2 cells};
\draw[bto] (kB2) -- (kB2 -| kL6.west);
\node[pw2] (kP2) at (1957,465) {Chemokine signaling\\pathway};

\node[onc] (kOnc3) at (1773,485) {Oncoprotein};
\node[vp, nar] (kKapB) at (1776,501) {KaposinB};
\node[gene] (kMK2) at (1860,501.5) {MK2};
\draw[act] (kKapB.east) -- (kMK2.west);
\node[lbl] (kL7) at (1919,504.5) {Cytokine mRNA\\stability};
\draw[go] (kMK2.east) -- (kMK2.east -| kL7.west);

\node[onc] (kOnc4) at (1773,539) {Oncoprotein};
\node[vp] (kvFLIP) at (1776,556) {vFLIP};
\node[gene, fill=dn4] (kNEMO) at (1860,556) {NEMO};
\node[vp] (kvIAP) at (1776,583) {vIAP};
\node[gene] (kCasp) at (1860,583) {Casp3,8};
\draw[act] (kvFLIP.east) -- (kNEMO.west);
\draw[blk] (kvFLIP.east) -- ([shift={(-2,-12)}]kCasp.west);
\inh{kvIAP.east}{kCasp.west}{0}
\node[onc] (kOnc5) at (1776,611) {Oncoprotein};
\node[vp] (kLANA) at (1776,628.5) {LANA};
\node[gene, fill=up4] (kp53c) at (1860,610) {p53};
\node[gene] (kRb) at (1860,640) {Rb};
\inh{kLANA.east}{kp53c.west}{0}
\inh{kLANA.east}{kRb.west}{0}
\node[onc] (kOnc6) at (1776,650) {Oncoprotein};
\node[vp] (kvcyc) at (1776,665.5) {v-cyclin};
\node[gene, fill=dn4] (kCdk6) at (1860,665.5) {Cdk6};
\draw (kvcyc.east) -- (kCdk6.west);
\kbrace{kB3}{1880}{539}{622}{583}
\node[lbl] (kL8) at (1922,584) {Inhibition of apoptosis};
\draw[bto] (kB3) -- (kB3 -| kL8.west);
\node[pw2] (kP3) at (1957,555.5) {NF-κB signaling\\pathway};
\kbrace{kB4}{1880}{626}{677}{650}
\node[lbl] (kL9) at (1924,652) {Proliferation};
\draw[bto] (kB4) -- (kB4 -| kL9.west);
\node[pw] (kP4) at (1957,673.5) {Cell cycle};

\node[onc] (kOnc7) at (1778,704) {Oncoprotein};
\node[vp] (kvBcl2) at (1776,720.5) {vBcl-2};
\node[gene, fill=up4] (kBAX) at (1860,696.5) {BAX};
\node[gene, fill=up3] (kBAD) at (1860,720) {BAD};
\node[gene] (kNoxA) at (1860,742.5) {NoxA};
\inh{kvBcl2.east}{kBAX.west}{0}
\inh{kvBcl2.east}{kBAD.west}{0}
\inh{kvBcl2.east}{kNoxA.west}{0}
\kbrace{kB5}{1880}{683}{753}{719}
\node[lbl] (kL10) at (1926,721) {Inhibition of apoptosis};
\draw[bto] (kB5) -- (kB5 -| kL10.west);
\node[pw] (kP5) at (1957,745.5) {Apoptosis};

\node[vp] (kKCP) at (1776,771) {KCP};
\node[gene] (kC3) at (1860,771) {C3};
\inh{kKCP.east}{kC3.west}{0}
\node[vp] (kMIR1) at (1776,793.5) {MIR1};
\node[vp] (kMIR2) at (1776,816.5) {MIR2};
\node[gene, fill=up1] (kMHC) at (1860,804.5) {MHC-I};
\inh{kMIR1.east}{kMHC.west}{-6}
\inh{kMIR2.east}{kMHC.west}{7}
\kbrace{kB6}{1880}{757}{817}{787}
\node[lbl] (kL11) at (1926,790.5) {Immune evasion\\by KSHV};
\draw[bto] (kB6) -- (kB6 -| kL11.west);

\node[onc] (kOnc8) at (1778,837) {Oncoprotein};
\node[vp] (kvGPCR) at (1776,852) {vGPCR};
\node[vp] (kK1) at (1776,877.5) {K1};
\node[vp] (kK15) at (1776,901) {K15};
\node[gene] (kPI3K) at (1860,864) {PI3K};
\node[gene, fill=dn3] (kTRAF) at (1860,901) {TRAF};
\draw[act] (kvGPCR.east) -- ([yshift=4pt]kPI3K.west);
\draw[act] (kK1.east) -- ([yshift=-4pt]kPI3K.west);
\draw[act] (kK15.east) -- (kTRAF.west);
\kbrace{kB7}{1880}{849}{916}{881}
\node[lbl] (kL12) at (1924,883.5) {Angiogenesis\\Inflammation};
\draw[bto] (kB7) -- (kB7 -| kL12.west);
\node[pw2] (kP6) at (1957,851) {PI3K-Akt signaling\\pathway};

\node[vp] (kvOX2) at (1776,930.5) {vOX2};
\node[lbl] (kL13) at (1920,931.5) {Downregulation of\\myeloid cell activation};
\draw[go] (kvOX2.east) -- (kvOX2.east -| kL13.west);
\node[vp] (kSOX) at (1776,958) {SOX};
\node[lbl] (kL14) at (1920,962.5) {Shutoff of host cell\\gene expression};
\draw[go] (kSOX.east) -- (kSOX.east -| kL14.west);
\node[onc] (kOnc9) at (1779,978) {Oncoprotein};
\node[vp] (kvMIP) at (1776,994) {vMIP-1};
\node[vp] (kCCR8b) at (1860,994) {CCR8};
\draw[ind] (kvMIP.east) -- (kCCR8b.west);
\node[lbl] (kL15) at (1926,995) {Angiogenesis};
\draw[go, shorten <=9pt] (kCCR8b.east) -- (kCCR8b.east -| kL15.west);
\end{tikzpicture}
\end{document}
